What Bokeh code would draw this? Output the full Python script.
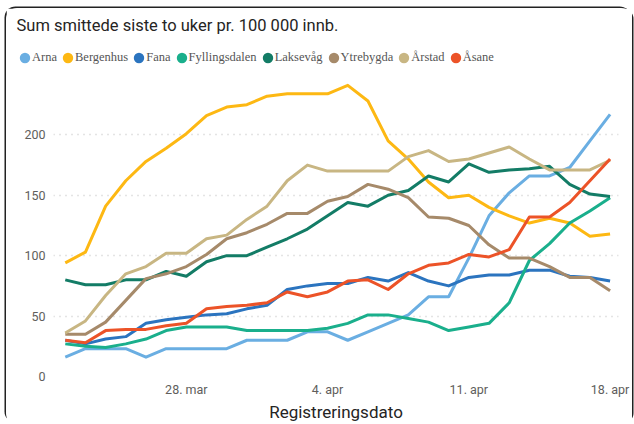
import pandas as pd
from bokeh.plotting import figure
from bokeh.layouts import column
from bokeh.models import (Range1d, FixedTicker, CustomJSTickFormatter, Legend,
                          LegendItem, ColumnDataSource)
from bokeh.embed import file_html
from bokeh.resources import INLINE

# ---- data -------------------------------------------------------------
dates = pd.date_range("2021-03-22", "2021-04-18", freq="D")

arna = [16, 23, 23, 23, 16, 23, 23, 23, 23, 30, 30, 30, 37, 37, 30, 37, 44, 51,
        66, 66, 98, 133, 152, 166, 166, 173, 195, 217]
bergenhus = [94, 103, 141, 162, 178, 189, 201, 216, 223, 225, 232, 234, 234, 234,
             241, 228, 195, 180, 161, 148, 150, 140, 133, 127, 131, 127, 116, 118]
fana = [30, 27, 31, 33, 44, 47, 49, 51, 52, 56, 59, 72, 75, 77, 77, 82, 79, 86,
        79, 75, 82, 84, 84, 88, 88, 83, 82, 79]
fyllingsdalen = [27, 25, 24, 27, 31, 38, 41, 41, 41, 38, 38, 38, 38, 40, 44, 51,
                 51, 48, 45, 38, 41, 44, 61, 96, 110, 127, 137, 148]
laksevag = [80, 76, 76, 80, 80, 87, 83, 95, 100, 100, 107, 114, 122, 133, 144,
            141, 150, 154, 166, 161, 176, 169, 171, 172, 174, 159, 151, 149]
ytrebygda = [35, 35, 45, 63, 81, 85, 91, 101, 114, 119, 126, 135, 135, 145, 149,
             159, 155, 148, 132, 131, 125, 109, 98, 98, 91, 82, 82, 71]
arstad = [36, 46, 67, 85, 91, 102, 102, 114, 117, 130, 141, 162, 175, 170, 170,
          170, 170, 182, 187, 178, 180, 185, 190, 180, 171, 171, 171, 179]
asane = [30, 28, 38, 39, 39, 42, 44, 56, 58, 59, 61, 70, 66, 70, 79, 80, 72, 85,
         92, 94, 101, 99, 105, 132, 132, 144, 162, 180]

names = ["Arna", "Bergenhus", "Fana", "Fyllingsdalen", "Laksevåg", "Ytrebygda",
         "Årstad", "Åsane"]
series = [arna, bergenhus, fana, fyllingsdalen, laksevag, ytrebygda, arstad, asane]
colors = ["#6AAEE2", "#FDB813", "#2B74BF", "#1AAF8C", "#137C66", "#A68A6A",
          "#C8B683", "#EC5328"]

tick_dates = ["2021-03-28", "2021-04-04", "2021-04-11", "2021-04-18"]
tick_labels = ["28. mar", "4. apr", "11. apr", "18. apr"]
y_ticks = [0, 50, 100, 150, 200]

title_text = "Sum smittede siste to uker pr. 100 000 innb."
x_label = "Registreringsdato"

# ---- sources ----------------------------------------------------------
data = {"x": dates}
for n, s in zip(names, series):
    data[n] = s
src = ColumnDataSource(data)

# ---- header: title + legend --------------------------------------------
head = figure(width=626, height=72, output_backend="svg",
              toolbar_location=None, x_range=Range1d(0, 1),
              y_range=Range1d(0, 1), min_border=0, min_border_top=26)
head.frame_align = False
head.axis.visible = False
head.grid.visible = False
head.outline_line_color = None
head.border_fill_color = "white"
head.title.text = title_text
head.title.text_font = "Roboto"
head.title.text_font_size = "16.5px"
head.title.text_font_style = "normal"
head.title.text_color = "#252423"
head.title.offset = 10
head.title.standoff = 0

# legend swatches: round dots (ellipse legend glyph fills 80% of the box)
items = []
for n, c in zip(names, colors):
    r = head.ellipse(x=[-5], y=[-5], width=10, height=10,
                     width_units="screen", height_units="screen",
                     fill_color=c, line_color=None)
    items.append(LegendItem(label=n, renderers=[r]))
legend = Legend(items=items, orientation="horizontal", location=(12, 15),
                glyph_width=13, glyph_height=13, label_standoff=1,
                spacing=4, padding=0, margin=0,
                label_text_font="Liberation Serif",
                label_text_font_size="12.5px", label_text_color="#555555",
                border_line_color=None, background_fill_alpha=0)
head.add_layout(legend, "center")

# ---- main chart ---------------------------------------------------------
p = figure(width=626, height=344, x_axis_type="datetime",
           output_backend="svg", toolbar_location=None,
           x_range=Range1d(dates[0] - pd.Timedelta(hours=14),
                           dates[-1] + pd.Timedelta(hours=10)),
           y_range=Range1d(0, 245),
           min_border_left=47, min_border_right=14, min_border_top=0,
           min_border_bottom=20)
p.frame_align = False
p.title.visible = False
p.outline_line_color = None
p.background_fill_color = "white"
p.border_fill_color = "white"

for n, c in zip(names, colors):
    p.line(x="x", y=n, source=src, line_color=c, line_width=3,
           line_join="round")

tick_ms = [pd.Timestamp(d).value / 1e6 for d in tick_dates]
p.xaxis.ticker = FixedTicker(ticks=tick_ms)
p.xaxis.formatter = CustomJSTickFormatter(
    args=dict(tvals=tick_ms, tlabs=tick_labels),
    code="""
    for (let i = 0; i < tvals.length; i++) {
        if (Math.abs(tvals[i] - tick) < 1000) { return tlabs[i]; }
    }
    return '';
    """)
p.yaxis.ticker = FixedTicker(ticks=y_ticks)

for ax in (p.xaxis[0], p.yaxis[0]):
    ax.axis_line_color = None
    ax.major_tick_line_color = None
    ax.minor_tick_line_color = None
    ax.major_tick_out = 0
    ax.major_tick_in = 0
    ax.minor_tick_out = 0
    ax.minor_tick_in = 0
    ax.major_label_text_color = "#605E5C"
    ax.major_label_text_font = "Roboto"
    ax.major_label_text_font_size = "12.5px"
p.yaxis.major_label_standoff = 8
p.xaxis.major_label_standoff = 5
p.xaxis.axis_label = x_label
p.xaxis.axis_label_text_font = "Roboto"
p.xaxis.axis_label_text_font_size = "17px"
p.xaxis.axis_label_text_font_style = "normal"
p.xaxis.axis_label_text_color = "#252423"
p.xaxis.axis_label_standoff = 2

p.xgrid.visible = False
p.ygrid.grid_line_color = "#C8C8C8"
p.ygrid.grid_line_dash = "1 5"
p.ygrid.grid_line_width = 1.5

layout = column(head, p, spacing=0)
layout.styles = {"margin-left": "6px", "margin-top": "8px",
                 "border-radius": "11px", "background": "white",
                 "box-shadow": "-1.5px -1.5px 0 0 #222, 1.5px 0 0 0 #222"}

open("out.html", "w").write(file_html(layout, INLINE))
